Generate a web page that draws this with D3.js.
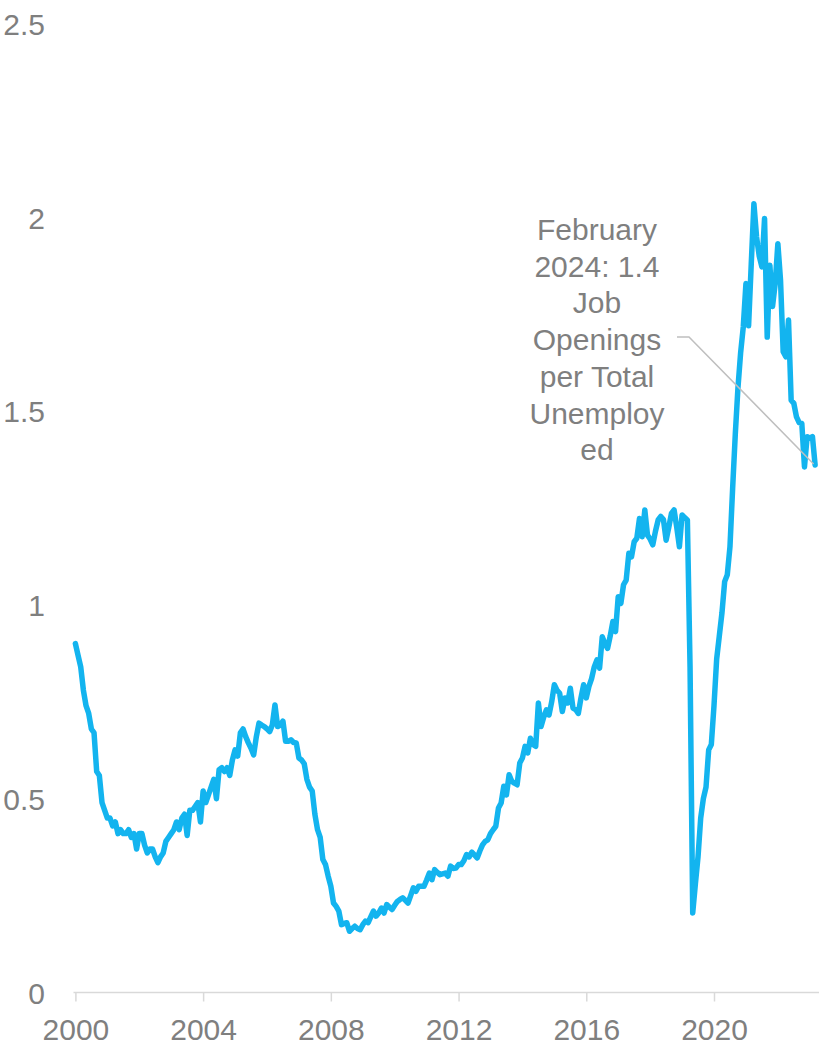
<!DOCTYPE html>
<html>
<head>
<meta charset="utf-8">
<script src="https://cdn.jsdelivr.net/npm/d3@7"></script>
<style>
  html, body { margin: 0; padding: 0; background: #fff; }
  svg { display: block; }
  text { font-family: "Liberation Sans", Arial, sans-serif; }
</style>
</head>
<body>
<div id="chart"></div>
<script>
// Job openings per unemployed person, monthly, starting Dec 2000 (first point sits at the "2000" tick)
const startLabel = "2000-12";
const ratio = [
  0.90,
  0.87, 0.84, 0.78, 0.74, 0.72, 0.68, 0.67, 0.57, 0.56, 0.49, 0.47, 0.45,
  0.45, 0.43, 0.44, 0.41, 0.42, 0.41, 0.41, 0.42, 0.40, 0.41, 0.37, 0.41,
  0.41, 0.38, 0.36, 0.37, 0.37, 0.35, 0.335, 0.35, 0.36, 0.39, 0.40, 0.41,
  0.42, 0.44, 0.42, 0.45, 0.46, 0.405, 0.47, 0.47, 0.48, 0.49, 0.44, 0.52,
  0.49, 0.51, 0.53, 0.55, 0.50, 0.575, 0.58, 0.57, 0.58, 0.56, 0.60, 0.626,
  0.61, 0.67, 0.68, 0.66, 0.644, 0.63, 0.613, 0.66, 0.695, 0.69, 0.686, 0.68,
  0.673, 0.69, 0.742, 0.686, 0.69, 0.70, 0.648, 0.648, 0.652, 0.645, 0.644, 0.605,
  0.60, 0.59, 0.55, 0.53, 0.52, 0.46, 0.42, 0.40, 0.343, 0.33, 0.30, 0.274,
  0.231, 0.222, 0.21, 0.175, 0.178, 0.18, 0.158, 0.165, 0.171, 0.165, 0.162, 0.175,
  0.184, 0.18, 0.195, 0.21, 0.197, 0.205, 0.218, 0.205, 0.227, 0.22, 0.214, 0.225,
  0.235, 0.24, 0.244, 0.238, 0.231, 0.25, 0.27, 0.261, 0.274, 0.274, 0.274, 0.29,
  0.308, 0.291, 0.317, 0.31, 0.304, 0.306, 0.308, 0.30, 0.326, 0.32, 0.321, 0.33,
  0.33, 0.34, 0.356, 0.35, 0.362, 0.355, 0.347, 0.365, 0.381, 0.39, 0.394, 0.41,
  0.42, 0.429, 0.476, 0.489, 0.532, 0.51, 0.562, 0.545, 0.54, 0.536, 0.592, 0.605,
  0.635, 0.618, 0.656, 0.64, 0.635, 0.747, 0.686, 0.71, 0.729, 0.716, 0.75, 0.794,
  0.78, 0.772, 0.725, 0.76, 0.747, 0.785, 0.734, 0.73, 0.72, 0.76, 0.794, 0.76,
  0.79, 0.81, 0.84, 0.858, 0.837, 0.918, 0.90, 0.888, 0.92, 0.957, 0.931, 1.021,
  1.004, 1.052, 1.064, 1.133, 1.124, 1.163, 1.172, 1.223, 1.176, 1.245, 1.18, 1.17,
  1.155, 1.19, 1.219, 1.228, 1.22, 1.167, 1.20, 1.236, 1.245, 1.20, 1.15, 1.232,
  1.225, 1.219, 0.84, 0.205, 0.28, 0.35, 0.45, 0.50, 0.53, 0.626, 0.64, 0.74,
  0.86, 0.92, 0.98, 1.06, 1.078, 1.15, 1.30, 1.44, 1.56, 1.65, 1.717, 1.829,
  1.72, 1.88, 2.035, 1.949, 1.90, 1.872, 1.997, 1.691, 1.876, 1.77, 1.829, 1.932,
  1.838, 1.653, 1.64, 1.735, 1.528, 1.52, 1.485, 1.47, 1.468, 1.356, 1.434, 1.43,
  1.434, 1.361
];
const xTickYears = [2000, 2004, 2008, 2012, 2016, 2020];
const yTicks = [0, 0.5, 1, 1.5, 2, 2.5];
const annotationLines = ["February", "2024: 1.4", "Job", "Openings", "per Total", "Unemploy", "ed"];

const W = 819, H = 1044;
const svg = d3.select("#chart").append("svg")
  .attr("width", W).attr("height", H);

const x = d3.scaleLinear().domain([0, 240]).range([75.4, 714]);
const y = d3.scaleLinear().domain([0, 2.5]).range([992.5, 23.5]);

const grey = "#7f7f7f";

// x axis
const xAxis = d3.axisBottom(x)
  .tickValues(xTickYears.map(yr => (yr - 2000) * 12))
  .tickFormat((d, i) => xTickYears[i])
  .tickSize(9)
  .tickPadding(10);
const gx = svg.append("g").attr("transform", `translate(0,${y(0)})`).call(xAxis);
gx.select(".domain").remove();
gx.append("line")
  .attr("x1", 73.5).attr("x2", W).attr("y1", 0).attr("y2", 0)
  .attr("stroke", "#d9d9d9").attr("stroke-width", 1.5);
gx.selectAll(".tick line").attr("stroke", "#d9d9d9").attr("stroke-width", 1.5);
gx.selectAll(".tick text")
  .attr("fill", grey).attr("font-size", 30)
  .attr("dy", null).attr("y", 47)
  .style("font-family", '"Liberation Sans", Arial, sans-serif');

// y axis labels
const yAxis = d3.axisLeft(y).tickValues(yTicks).tickFormat(d3.format("")).tickSize(0).tickPadding(0);
const gy = svg.append("g").attr("transform", "translate(45,0)").call(yAxis);
gy.select(".domain").remove();
gy.selectAll(".tick text")
  .attr("fill", grey).attr("font-size", 30)
  .attr("dy", "0.36em")
  .style("font-family", '"Liberation Sans", Arial, sans-serif');

// line
const line = d3.line()
  .x((d, i) => x(i))
  .y(d => y(d));
svg.append("path")
  .datum(ratio)
  .attr("fill", "none")
  .attr("stroke", "#13b4ef")
  .attr("stroke-width", 5.5)
  .attr("stroke-linejoin", "round")
  .attr("stroke-linecap", "round")
  .attr("d", line);

// annotation
const lastI = ratio.length - 1;
svg.append("path")
  .attr("d", `M677,337 H689 L${x(lastI) - 1.5},${y(ratio[lastI]) - 1}`)
  .attr("fill", "none")
  .attr("stroke", "#bfbfbf")
  .attr("stroke-width", 1.5);

const ann = svg.append("g");
annotationLines.forEach((t, k) => {
  ann.append("text")
    .attr("x", 597).attr("y", 240 + k * 36.7)
    .attr("text-anchor", "middle")
    .attr("fill", grey).attr("font-size", 30)
    .text(t);
});
</script>
</body>
</html>
